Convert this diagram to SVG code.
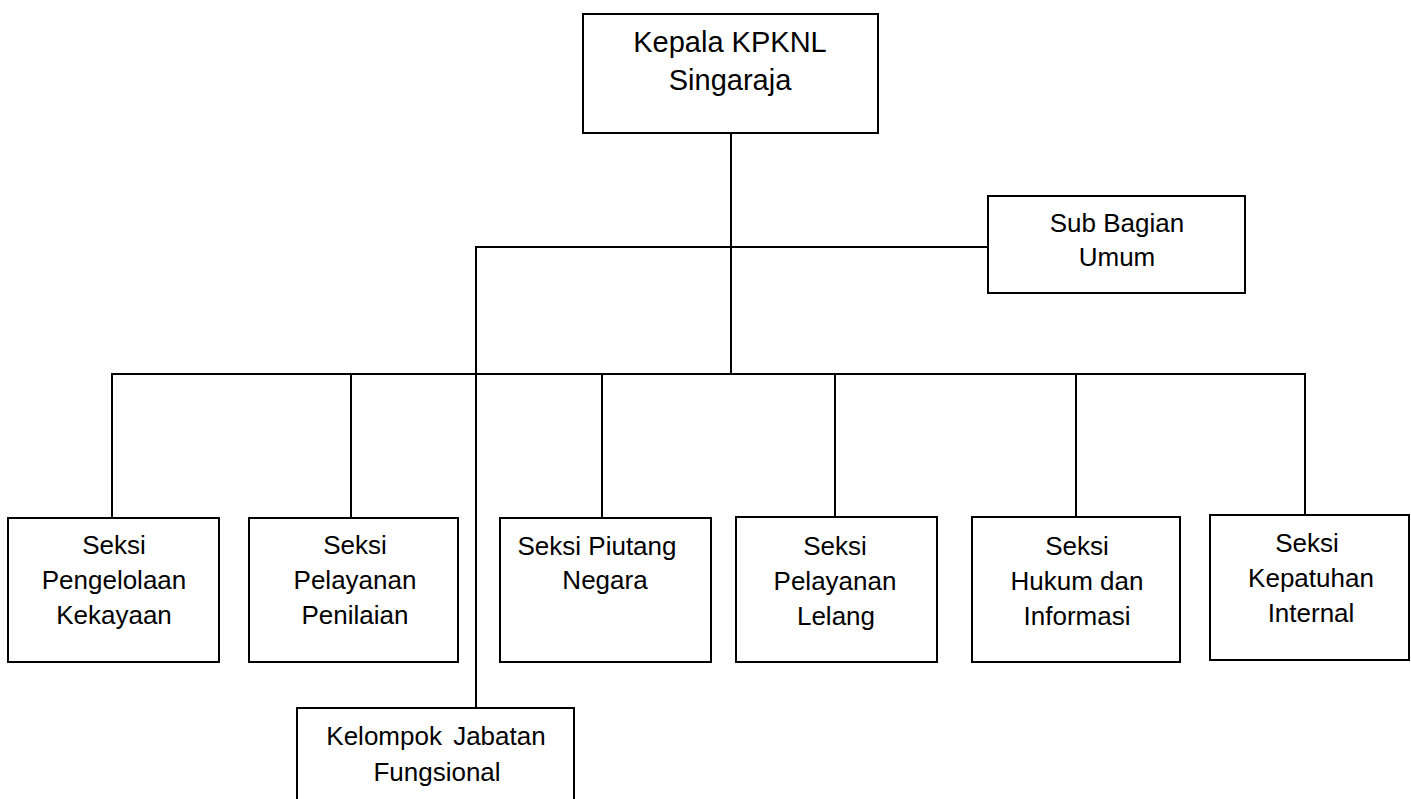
<svg xmlns="http://www.w3.org/2000/svg" width="1411" height="799" viewBox="0 0 1411 799">
<style>
.box{fill:#fff;stroke:#000;stroke-width:2}
.ln{stroke:#000;stroke-width:2;fill:none}
text{font-family:"Liberation Sans",Arial,sans-serif;font-size:26px;fill:#000;text-anchor:middle}
.big{font-size:29px}
</style>
<rect width="1411" height="799" fill="#fff"/>
<g id="connectors">
<line class="ln" x1="731" y1="133" x2="731" y2="375"/>
<line class="ln" x1="475" y1="247" x2="988" y2="247"/>
<line class="ln" x1="476" y1="246" x2="476" y2="708"/>
<line class="ln" x1="111" y1="374" x2="1306" y2="374"/>
<line class="ln" x1="112" y1="373" x2="112" y2="518"/>
<line class="ln" x1="351" y1="373" x2="351" y2="518"/>
<line class="ln" x1="602" y1="373" x2="602" y2="518"/>
<line class="ln" x1="835" y1="373" x2="835" y2="517"/>
<line class="ln" x1="1076" y1="373" x2="1076" y2="517"/>
<line class="ln" x1="1305" y1="373" x2="1305" y2="515"/>
</g>
<g id="kepala">
<rect class="box" x="583" y="14" width="295" height="119"/>
<text class="big" x="730" y="52">Kepala KPKNL</text>
<text class="big" x="730" y="90">Singaraja</text>
</g>
<g id="subbagian">
<rect class="box" x="988" y="196" width="257" height="97"/>
<text x="1117" y="232">Sub Bagian</text>
<text x="1117" y="266">Umum</text>
</g>
<g id="seksi-pk">
<rect class="box" x="8" y="518" width="211" height="144"/>
<text x="114" y="554">Seksi</text>
<text x="114" y="589">Pengelolaan</text>
<text x="114" y="624">Kekayaan</text>
</g>
<g id="seksi-pp">
<rect class="box" x="249" y="518" width="209" height="144"/>
<text x="355" y="554">Seksi</text>
<text x="355" y="589">Pelayanan</text>
<text x="355" y="624">Penilaian</text>
</g>
<g id="seksi-pn">
<rect class="box" x="500" y="518" width="211" height="144"/>
<text x="597" y="555">Seksi Piutang</text>
<text x="605" y="589">Negara</text>
</g>
<g id="seksi-pl">
<rect class="box" x="736" y="517" width="201" height="145"/>
<text x="835" y="555">Seksi</text>
<text x="835" y="590">Pelayanan</text>
<text x="836" y="625">Lelang</text>
</g>
<g id="seksi-hi">
<rect class="box" x="972" y="517" width="208" height="145"/>
<text x="1077" y="555">Seksi</text>
<text x="1077" y="590">Hukum dan</text>
<text x="1077" y="625">Informasi</text>
</g>
<g id="seksi-ki">
<rect class="box" x="1210" y="515" width="199" height="145"/>
<text x="1307" y="552">Seksi</text>
<text x="1311" y="587">Kepatuhan</text>
<text x="1311" y="622">Internal</text>
</g>
<g id="kelompok">
<rect class="box" x="297" y="708" width="277" height="100"/>
<text x="436" y="745" word-spacing="4">Kelompok Jabatan</text>
<text x="437" y="781">Fungsional</text>
</g>
</svg>
